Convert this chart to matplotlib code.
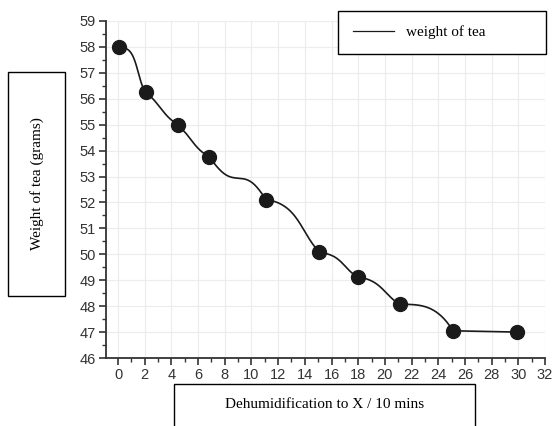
import numpy as np
import matplotlib.pyplot as plt
from matplotlib.patches import Rectangle
from matplotlib.ticker import MultipleLocator

# dane
czas = [0.1, 2.1, 4.5, 6.8, 11.1, 15.1, 18.0, 21.1, 25.1, 29.9]
waga = [58.0, 56.25, 55.0, 53.77, 52.1, 50.07, 49.12, 48.07, 47.05, 47.0]
x_ticks = list(range(0, 33, 2))
y_ticks = list(range(46, 60))
seria = "weight of tea"
opis_x = "Dehumidification to X / 10 mins"
opis_y = "Weight of tea (grams)"

# kształt wygładzenia każdego odcinka (wykładnik, falowanie)
wykl = [1.8, 0.9, 0.85, 1.05, 1.7, 1.5, 1.5, 3.3, 1.0]
fala = [0.6, 0.3, 0.3, -0.9, 0.3, 0.4, 0.3, 0.0, 0.0]

SERIF = "Liberation Serif"
SANS = "Liberation Sans"

# wygładzona linia pomiędzy kolejnymi punktami
def gladka(xs, ys, n=80):
    gx, gy = [], []
    for i in range(len(xs) - 1):
        t = np.linspace(0, 1, n)
        u = t ** wykl[i]
        f = u - fala[i] * np.sin(2 * np.pi * u) / (2 * np.pi)
        gx += list(xs[i] + (xs[i + 1] - xs[i]) * t)
        gy += list(ys[i] + (ys[i + 1] - ys[i]) * f)
    return gx, gy

W, H = 553, 426
fig = plt.figure(figsize=(W / 100, H / 100), dpi=100)
ax = fig.add_axes([106 / W, 1 - 358 / H, 439 / W, 337 / H])

lx, ly = gladka(czas, waga)
ax.plot(lx, ly, color="#1a1a1a", lw=1.2, label=seria, zorder=3)
ax.plot(czas, waga, "o", color="#1a1a1a", ms=10, zorder=4)

ax.set_xlim(-0.9, 32)
ax.set_ylim(46, 59)
ax.set_xticks(x_ticks)
ax.set_yticks(y_ticks)
ax.xaxis.set_minor_locator(MultipleLocator(1))
ax.yaxis.set_minor_locator(MultipleLocator(0.5))
ax.grid(True, which="major", color="#ececec", lw=0.8)
ax.set_axisbelow(True)
for s in ["top", "right"]:
    ax.spines[s].set_visible(False)
for s in ["left", "bottom"]:
    ax.spines[s].set_color("#333333")
    ax.spines[s].set_linewidth(1.3)
ax.tick_params(which="major", length=5, width=1.2, color="#333333",
               labelsize=10.5, labelcolor="#333333", pad=2.5)
ax.tick_params(which="minor", length=3, width=1.0, color="#333333")
for lab in ax.get_xticklabels() + ax.get_yticklabels():
    lab.set_family(SANS)

leg = ax.legend(loc="center", bbox_to_anchor=(338 / W, 1 - 55 / H, 208 / W, 45 / H),
                bbox_transform=fig.transFigure, mode="expand", borderaxespad=0,
                fancybox=False, edgecolor="black", framealpha=1, borderpad=0.95,
                handlelength=2.7, handletextpad=0.8,
                prop={"family": SERIF, "size": 11})
leg.get_frame().set_linewidth(1.0)
leg.legend_handles[0].set_linewidth(0.9)

# ramki z opisami osi
fig.patches.append(Rectangle((8 / W, 1 - 296 / H), 57 / W, 224 / H, transform=fig.transFigure,
                             fill=False, ec="black", lw=1.0))
fig.text(37 / W, 1 - 184 / H, opis_y, rotation=90, ha="center", va="center",
         family=SERIF, size=11)
fig.patches.append(Rectangle((174 / W, -0.05), 301 / W, 0.05 + 1 - 384 / H, transform=fig.transFigure,
                             fill=False, ec="black", lw=1.0))
fig.text(325 / W, 1 - 405 / H, opis_x, ha="center", va="center", family=SERIF, size=11)

fig.savefig("out.png", dpi=100)
